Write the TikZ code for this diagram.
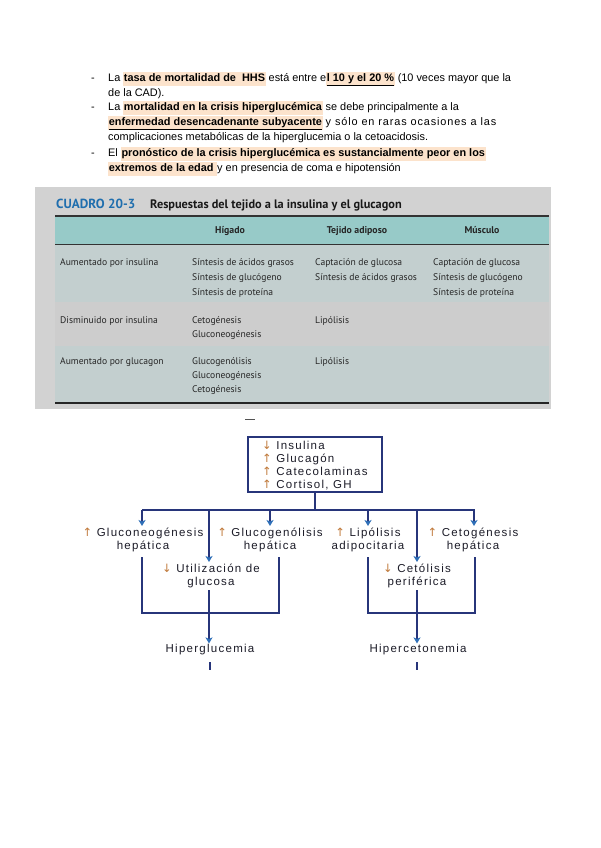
\documentclass[tikz,border=0pt]{standalone}
\usepackage{fontspec}
\setmainfont{Liberation Sans}
\newfontfamily\tabfont{PT Sans}
\newfontfamily\diagfont[LetterSpace=11]{Liberation Sans}
\newfontfamily\arrfont{DejaVu Sans}
\usetikzlibrary{arrows.meta}
\definecolor{hlc}{HTML}{FCE3CC}
\definecolor{tabbg}{HTML}{D2D2D2}
\definecolor{rowa}{HTML}{C3CFCF}
\definecolor{rowb}{HTML}{CDCDCD}
\definecolor{headc}{HTML}{97CAC8}
\definecolor{cuadro}{HTML}{1F6EAE}
\definecolor{navy}{HTML}{27357A}
\definecolor{arrblue}{HTML}{2E6FB8}
\definecolor{updown}{HTML}{C0793A}
\definecolor{txt}{HTML}{1C1C28}
\newcommand{\hlb}[1]{{\setlength{\fboxsep}{0.6pt}\colorbox{hlc}{\strut\bfseries #1}}}
\newcommand{\uparr}{{\arrfont\color{updown}↑}}
\newcommand{\dnarr}{{\arrfont\color{updown}↓}}
\begin{document}
\begin{tikzpicture}[x=1pt,y=-1pt,
  bul/.style={anchor=base west, inner sep=0pt, font=\fontsize{10.9}{12.5}\selectfont},
  tcell/.style={anchor=base west, inner sep=0pt, font=\tabfont\fontsize{9.6}{11}\selectfont, text=black!85},
  thead/.style={anchor=base, inner sep=0pt, font=\tabfont\bfseries\fontsize{9.8}{11}\selectfont, text=black!85},
  dlab/.style={align=center, inner sep=1pt, text=txt, font=\diagfont\fontsize{11.5}{13.5}\selectfont},
  conn/.style={draw=navy, line width=1.1pt},
  arr/.style={conn, -{Stealth[length=6pt,width=7pt,inset=1.5pt,color=arrblue]}},
]
\useasboundingbox (0,0) rectangle (600,848);
\fill[white] (0,0) rectangle (600,848);

% ---- bullet text
\foreach \n/\y in {d1/81.5, d2/110.5, d3/156.5}
  \node[bul] (\n) at (91,\y) {-};
\node[bul] (b1) at (108,81.5) {La \hlb{tasa de mortalidad de\ \ HHS} está entre e\hlb{\underline{l 10 y el 20 \%}} (10 veces mayor que la};
\node[bul] (b2) at (108,96.5) {de la CAD).};
\node[bul] (b3) at (108,110.5) {La \hlb{mortalidad en la crisis hiperglucémica} se debe principalmente a la};
\node[bul] (b4) at (108,125.5) {\hlb{\underline{enfermedad desencadenante subyacente}} {\addfontfeature{LetterSpace=8}y sólo en raras ocasiones a las}};
\node[bul] (b5) at (108,140.5) {complicaciones metabólicas de la hiperglucemia o la cetoacidosis.};
\node[bul] (b6) at (108,156.5) {El \hlb{pronóstico de la crisis hiperglucémica es sustancialmente peor en los}};
\node[bul] (b7) at (108,171.5) {\hlb{extremos de la edad }y en presencia de coma e hipotensión};

% ---- table
\fill[tabbg] (35,187) rectangle (551,409);
\fill[headc] (55,216) rectangle (549,244);
\fill[rowa] (55,244) rectangle (549,302);
\fill[rowb] (55,302) rectangle (549,346);
\fill[rowa] (55,346) rectangle (549,403);
\draw[black!80, line width=1.3pt] (55,216) -- (549,216);
\draw[black!80, line width=1pt] (55,244) -- (549,244);
\draw[black!85, line width=1.5pt] (55,403) -- (549,403);
\node[anchor=base west, inner sep=0pt, text=cuadro, font=\tabfont\bfseries\fontsize{13.2}{15}\selectfont] (cq) at (56,208) {CUADRO 20-3};
\node[anchor=base west, inner sep=0pt, text=black!90, font=\tabfont\bfseries\fontsize{12.3}{14}\selectfont] (ct) at (150,208) {Respuestas del tejido a la insulina y el glucagon};
\node[thead] (h1) at (230,233) {Hígado};
\node[thead] (h2) at (357,233) {Tejido adiposo};
\node[thead] (h3) at (482,233) {Músculo};
% row 1
\node[tcell] (r1a) at (60,265) {Aumentado por insulina};
\node[tcell] (r1b1) at (192,265) {Síntesis de ácidos grasos};
\node[tcell] (r1b2) at (192,280) {Síntesis de glucógeno};
\node[tcell] (r1b3) at (192,295) {Síntesis de proteína};
\node[tcell] (r1c1) at (315,265) {Captación de glucosa};
\node[tcell] (r1c2) at (315,280) {Síntesis de ácidos grasos};
\node[tcell] (r1d1) at (433,265) {Captación de glucosa};
\node[tcell] (r1d2) at (433,280) {Síntesis de glucógeno};
\node[tcell] (r1d3) at (433,295) {Síntesis de proteína};
% row 2
\node[tcell] (r2a) at (60,323) {Disminuido por insulina};
\node[tcell] (r2b1) at (192,323) {Cetogénesis};
\node[tcell] (r2b2) at (192,337) {Gluconeogénesis};
\node[tcell] (r2c1) at (315,323) {Lipólisis};
% row 3
\node[tcell] (r3a) at (60,364) {Aumentado por glucagon};
\node[tcell] (r3b1) at (192,364) {Glucogenólisis};
\node[tcell] (r3b2) at (192,378) {Gluconeogénesis};
\node[tcell] (r3b3) at (192,392) {Cetogénesis};
\node[tcell] (r3c1) at (315,364) {Lipólisis};

% ---- diagram
\node[inner sep=0pt, font=\fontsize{10}{12}\selectfont] (dash) at (250,421) {—};
\node[draw=navy, line width=1.3pt, minimum width=134pt, minimum height=55pt, inner sep=0pt] (top) at (315,464.5) {};
\node[anchor=west, align=left, inner sep=0pt, text=txt, font=\diagfont\fontsize{11.5}{12.9}\selectfont] (toptxt) at (262,465.5)
  {\dnarr\ Insulina\\ \uparr\ Glucagón\\ \uparr\ Catecolaminas\\ \uparr\ Cortisol, GH};

\node[dlab] (g1) at (143,540) {\uparr\ Gluconeogénesis\\hepática};
\node[dlab] (g2) at (270,540) {\uparr\ Glucogenólisis\\hepática};
\node[dlab] (l1) at (368,540) {\uparr\ Lipólisis\\adipocitaria};
\node[dlab] (c1) at (473,540) {\uparr\ Cetogénesis\\hepática};
\node[dlab] (u1) at (211,576) {\dnarr\ Utilización de\\glucosa};
\node[dlab] (k1) at (417,576) {\dnarr\ Cetólisis\\periférica};
\node[dlab] (hg) at (210,650) {Hiperglucemia};
\node[dlab] (hk) at (418,650) {Hipercetonemia};

\coordinate (j) at (315,510);
\coordinate (jl) at (142,510);
\coordinate (jr) at (475,510);
\draw[conn] (top.south) -- (j);
\draw[conn] (jl) -- (jr);
\draw[arr] (jl) -- (142,526) coordinate (g1t);
\draw[arr] (270,510) -- (270,526) coordinate (g2t);
\draw[arr] (368,510) -- (368,526) coordinate (l1t);
\draw[arr] (474,510) -- (474,526) coordinate (c1t);
\draw[arr] (209,510) -- (209,562) coordinate (u1t);
\draw[arr] (417,510) -- (417,562) coordinate (k1t);
% brackets
\draw[conn] (142,557) -- (142,613) -- (279,613) -- (279,557);
\draw[conn] (368,557) -- (368,613) -- (475,613) -- (475,557);
\draw[arr] (209,590) -- (hg.north -| 209,0);
\draw[arr] (417,590) -- (hk.north -| 417,0);
\draw[conn] (210,662) -- (210,670);
\draw[conn] (417,662) -- (417,670);
\end{tikzpicture}
\end{document}
